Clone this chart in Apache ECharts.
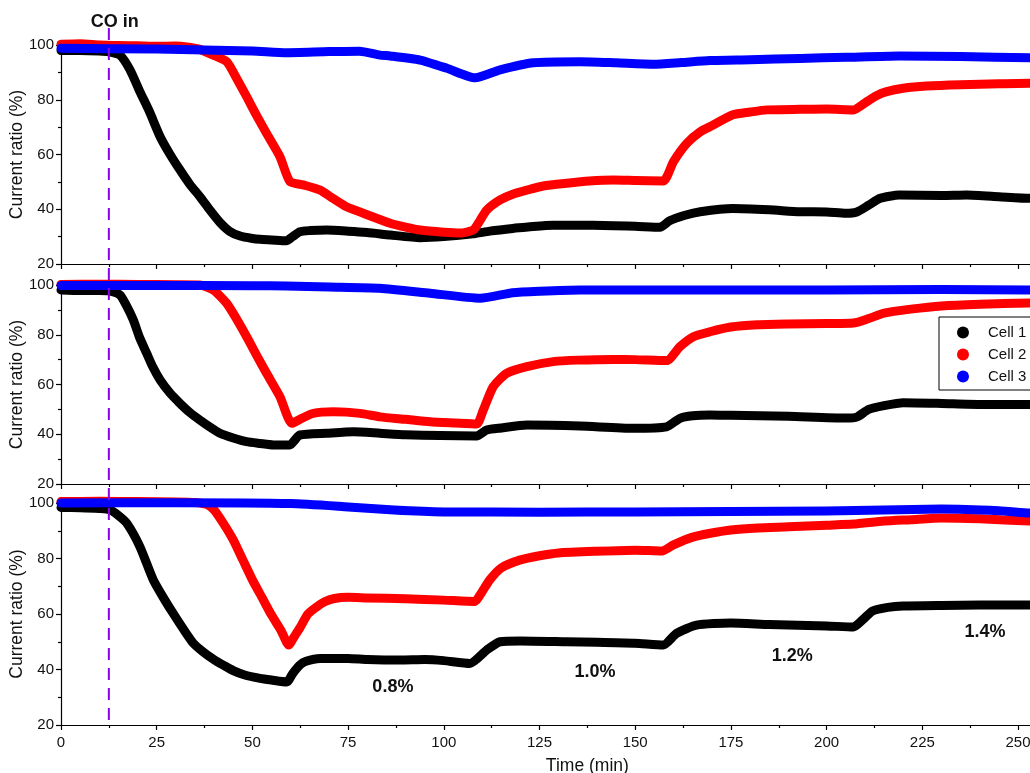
<!DOCTYPE html>
<html>
<head>
<meta charset="utf-8">
<title>Current ratio vs time</title>
<script src="https://cdn.jsdelivr.net/npm/echarts@6/dist/echarts.min.js"></script>
<style>
  html, body { margin: 0; padding: 0; background: #fff; }
  #chart { width: 1030px; height: 773px; }
</style>
</head>
<body>
<div id="chart"></div>
<script>
// Time axis
const xTicks = { min: 0, max: 275, interval: 25 };
const yTicks = { min: 20, max: 100, interval: 20 };
const seriesNames = ['Cell 1', 'Cell 2', 'Cell 3'];
const seriesColors = ['#000000', '#ff0000', '#0000ff'];
const coInTime = 12.5;
const concentrationLabels = ['0.8%', '1.0%', '1.2%', '1.4%'];
const concentrationLabelPos = [[86.7, 33.7], [139.5, 39.1], [191, 44.9], [241.4, 53.5]];

// Panel 1: [time (min), current ratio (%)]
const p1Cell1 = [[0,98],[5,98],[10,97.8],[12.5,97.5],[15.4,96.3],[18,91],[20.6,83],[23,76],[25.9,66.5],[28.5,60],[31.1,54.3],[33.7,49],[36.3,44.6],[39,39.5],[41.5,35.2],[44,32],[46.8,30.2],[50,29.3],[52,29],[55,28.8],[58.9,28.5],[60.5,30],[62.4,31.8],[65,32.2],[69.4,32.4],[75,32],[80,31.5],[86,30.6],[93.8,29.6],[100,30],[107.6,31],[112,32],[118,33],[122,33.5],[128.5,34.2],[139,34.2],[150,33.8],[156.5,33.4],[159,35.8],[163,37.8],[167,39.1],[175.5,40.3],[185,39.8],[193,39.1],[200,39],[205,38.5],[207.9,39],[211,41.5],[214,44],[219,45.2],[230,45],[236.6,45.2],[245,44.6],[253,44],[260,44]];
const p1Cell2 = [[0,100.3],[5,100.5],[10,100],[15,99.8],[20,99.7],[25,99.5],[30,99.6],[32.8,99.3],[36,98.5],[39.8,96.3],[43.3,93.9],[46,87.5],[48.5,81.1],[51,74.5],[53.7,67.7],[57.2,59.2],[59.8,50.1],[63.3,48.9],[67.7,47],[71,44],[74.6,40.9],[80,38],[86,34.9],[90,33.5],[93.8,32.4],[100,31.6],[104.2,31.3],[107.7,32.4],[109.5,36],[111.2,39.7],[114.7,43.4],[118,45.5],[121.7,47],[126,48.5],[132.1,49.5],[138,50.3],[144.3,50.7],[150,50.5],[157.3,50.3],[160,57.4],[163.5,64.1],[167,68.3],[170,70.5],[175.5,74.5],[180,75.5],[184.4,76.3],[193,76.5],[200,76.6],[207,76.3],[210.5,79.3],[213,81.5],[215.7,83],[220,84.2],[226.1,85],[235,85.5],[245,85.8],[253,86],[260,86]];
const p1Cell3 = [[0,98.8],[25,98.5],[50,97.8],[58.9,97.2],[70,97.6],[78,97.7],[83.3,96.3],[86,96],[93.8,94.5],[100.8,91.5],[108.2,88],[114.7,90.9],[123.4,93.5],[135.6,93.9],[145,93.5],[154.8,93],[162,93.6],[169.5,94.3],[180,94.6],[193,95.1],[205,95.5],[219,96],[235,95.8],[253,95.3],[260,95.2]];

// Panel 2
const p2Cell1 = [[0,98],[5,97.8],[10,97.8],[12.5,97.6],[15.4,96],[17,92],[18.9,85.9],[20.5,79],[22.4,72.5],[24,67],[25.9,61.8],[28.5,56.5],[31.1,52.4],[33.7,48.7],[36.3,45.7],[39,42.8],[41.5,40.4],[45,38.5],[48.5,37],[52,36.3],[55.5,35.7],[59.8,35.7],[61,37.5],[62.4,39.7],[69.4,40.4],[76.4,41],[83.3,40.4],[90,39.8],[99,39.5],[108.6,39.3],[111.2,41.7],[115,42.5],[121.7,43.7],[135.6,43.3],[149.5,42.4],[158.2,43],[161.7,46.4],[165,47.4],[169.5,47.7],[175,47.6],[190,47.2],[205,46.5],[208,47],[211,50],[215,51.5],[220,52.7],[230,52.4],[240,52],[253,52],[260,52]];
const p2Cell2 = [[0,100.2],[10,100.3],[20,100.2],[30,100.1],[36.3,100],[39.8,98],[43.3,92.6],[46,86],[48.5,79.2],[51,72],[53.7,64.5],[57.2,55.1],[60.3,44.4],[63,46.5],[65.9,48.4],[71.1,49],[78.1,48.4],[83.3,47],[90,46],[96.4,45],[103,44.5],[108.6,44.1],[110.3,49.7],[112.9,59.1],[116.4,64.5],[121.7,67.2],[128.6,69.2],[135,69.8],[144.3,70.1],[150,70],[158.2,69.6],[161.7,75.2],[165.2,79.2],[169.5,81.2],[175,83.1],[182,84],[190,84.3],[200,84.5],[207,84.7],[211,86.5],[215,88.7],[222,90.3],[230,91.6],[240,92.3],[253,92.8],[260,92.8]];
const p2Cell3 = [[0,99.8],[25,99.8],[50,99.7],[58.9,99.6],[70,99.2],[83.3,98.7],[96.4,96.7],[109.5,94.7],[118,96.9],[125,97.5],[135.6,98],[160,98],[200,98],[230,98.2],[253,98],[260,98]];

// Panel 3
const p3Cell1 = [[0,98.4],[5,98.3],[10,98],[12.8,97.6],[15,95.5],[17.2,92.7],[20.6,84.3],[24.1,72.3],[26.7,66],[29.3,60.2],[32,54.5],[34.6,49.4],[37,46.5],[40,43.5],[42.5,41.5],[45,39.6],[48,38],[52,36.8],[55,36.2],[59,35.5],[60.5,38.5],[62.4,41.6],[64,43],[67.7,44],[75,44],[80,43.6],[88.6,43.4],[95,43.6],[100,43.2],[106.8,42.2],[111.2,47],[114.7,50],[120,50.3],[132.1,50],[140,49.8],[150,49.5],[157.3,48.8],[160.8,53],[166,56],[175,56.8],[185,56.2],[200,55.7],[207,55.3],[209.5,58],[212,61.1],[216,62.4],[220,62.9],[230,63.1],[240,63.2],[253,63.2],[260,63.2]];
const p3Cell2 = [[0,100.5],[10,100.6],[20,100.5],[30,100.4],[35,100.2],[38,99.5],[40,97.5],[42.5,92.5],[45,86.7],[47.5,79.5],[50,72.3],[52.5,66],[55,59.6],[57.5,54],[59.5,48.8],[61,52],[62.4,55],[64.5,60],[66.8,62.6],[69,64.5],[71.1,65.5],[75,66],[80,65.8],[90,65.5],[100,65],[108,64.5],[110,68],[112,72.3],[115,76.6],[120,79.5],[125,81],[130,82],[140,82.6],[150,83],[157,82.7],[160,84.9],[165,87.7],[170,89.2],[175,90.3],[182,91],[190,91.4],[200,92],[207,92.4],[215,93.5],[222,94],[230,94.6],[240,94.3],[253,93.5],[260,93.3]];
const p3Cell3 = [[0,100],[30,100.1],[60,99.8],[75,98.6],[87,97.5],[100,96.8],[125,96.7],[150,96.8],[175,96.9],[200,97.1],[215,97.5],[230,97.8],[245,97.2],[253,96.4],[260,96.2]];

const panels = [
  [p1Cell1, p1Cell2, p1Cell3],
  [p2Cell1, p2Cell2, p2Cell3],
  [p3Cell1, p3Cell2, p3Cell3]
];

const FONT = '"Liberation Sans", Arial, sans-serif';
// The time axis runs past the right edge of the page; the view is cropped there.
const grids = [
  { left: 61, top: 45, width: 1052.7, height: 219, outerBoundsMode: 'none', containLabel: false },
  { left: 61, top: 285, width: 1052.7, height: 199, outerBoundsMode: 'none', containLabel: false },
  { left: 61, top: 503, width: 1052.7, height: 222, outerBoundsMode: 'none', containLabel: false }
];

const axisLineStyle = { show: true, lineStyle: { color: '#000', width: 1.2 } };

const xAxes = grids.map((g, i) => ({
  type: 'value', gridIndex: i,
  min: xTicks.min, max: xTicks.max, interval: xTicks.interval,
  axisLine: axisLineStyle,
  axisTick: { show: true, inside: false, length: 5, lineStyle: { color: '#000', width: 1.2 } },
  minorTick: { show: true, splitNumber: 2, length: 3, lineStyle: { color: '#000', width: 1.2 } },
  splitLine: { show: false },
  axisLabel: { show: i === 2, color: '#111', fontFamily: FONT, fontSize: 15, margin: 10 },
  name: i === 2 ? 'Time (min)' : '',
  nameLocation: 'middle', nameGap: 32, nameMoveOverlap: false,
  nameTextStyle: { color: '#111', fontFamily: FONT, fontSize: 17.5 }
}));

const yAxes = grids.map((g, i) => ({
  type: 'value', gridIndex: i,
  min: yTicks.min, max: yTicks.max, interval: yTicks.interval,
  axisLine: axisLineStyle,
  axisTick: { show: true, inside: false, length: 5, lineStyle: { color: '#000', width: 1.2 } },
  minorTick: { show: true, splitNumber: 2, length: 3, lineStyle: { color: '#000', width: 1.2 } },
  splitLine: { show: false },
  axisLabel: { color: '#111', fontFamily: FONT, fontSize: 15, margin: 7 },
  name: 'Current ratio (%)',
  nameLocation: 'middle', nameGap: 35, nameRotate: 90, nameMoveOverlap: false,
  nameTextStyle: { color: '#111', fontFamily: FONT, fontSize: 17.5 }
}));

const series = [];
panels.forEach((cells, pi) => {
  cells.forEach((data, ci) => {
    series.push({
      type: 'line', name: seriesNames[ci],
      xAxisIndex: pi, yAxisIndex: pi,
      data: data, showSymbol: false, symbol: 'circle',
      clip: false, smooth: 0.2,
      lineStyle: { color: seriesColors[ci], width: 9, cap: 'round', join: 'round' },
      itemStyle: { color: seriesColors[ci] },
      z: 2 + ci
    });
  });
});

const chart = echarts.init(document.getElementById('chart'), null, { renderer: 'canvas' });
chart.setOption({
  animation: false,
  backgroundColor: '#ffffff',
  grid: grids,
  xAxis: xAxes,
  yAxis: yAxes,
  legend: {
    data: seriesNames, orient: 'vertical', left: 939, top: 317,
    icon: 'circle', itemWidth: 12, itemHeight: 12, itemGap: 7,
    padding: [8, 30, 6, 18],
    backgroundColor: '#fff', borderColor: '#000', borderWidth: 1, borderRadius: 0,
    selectedMode: false,
    textStyle: { color: '#111', fontFamily: FONT, fontSize: 15, lineHeight: 14, padding: [0, 0, 0, 14] }
  },
  series: series
});

// Dashed "CO in" marker across all panels, and concentration labels in the bottom panel
const xCo = chart.convertToPixel({ xAxisIndex: 2 }, coInTime);
const yTop = chart.convertToPixel({ yAxisIndex: 0 }, yTicks.max) - 17;
const yBottom = chart.convertToPixel({ yAxisIndex: 2 }, yTicks.min);
const graphics = [
  {
    type: 'line', z: 20,
    shape: { x1: xCo, y1: yTop, x2: xCo, y2: yBottom },
    style: { stroke: '#8a00f2', lineWidth: 2, lineDash: [12, 8] }
  },
  {
    type: 'text', z: 20, x: xCo + 6, y: yTop - 6,
    style: { text: 'CO in', fill: '#111', font: 'bold 18px ' + FONT, textAlign: 'center', textVerticalAlign: 'middle' }
  }
];
concentrationLabels.forEach((t, i) => {
  const p = chart.convertToPixel({ gridIndex: 2 }, concentrationLabelPos[i]);
  graphics.push({
    type: 'text', z: 20, x: p[0], y: p[1],
    style: { text: t, fill: '#111', font: 'bold 18px ' + FONT, textAlign: 'center', textVerticalAlign: 'middle' }
  });
});
chart.setOption({ graphic: graphics });
</script>
</body>
</html>
